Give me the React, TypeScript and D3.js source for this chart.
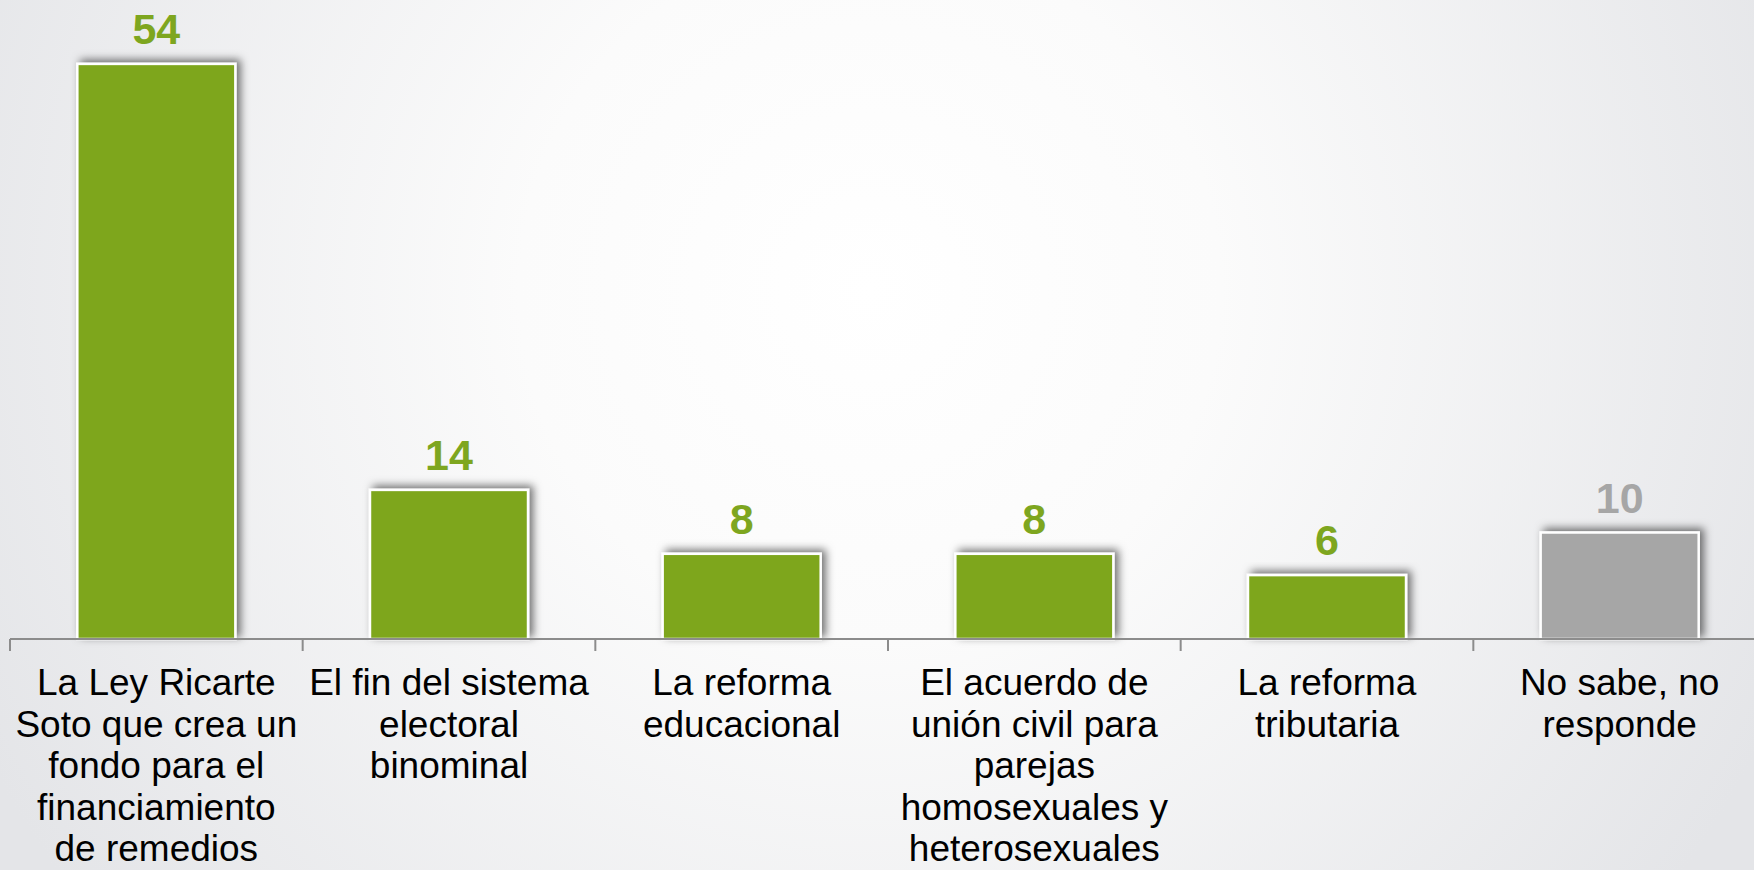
import React from "react";
import * as d3 from "d3";

const categories: string[] = [
  "La Ley Ricarte\nSoto que crea un\nfondo para el\nfinanciamiento\nde remedios",
  "El fin del sistema\nelectoral\nbinominal",
  "La reforma\neducacional",
  "El acuerdo de\nunión civil para\nparejas\nhomosexuales y\nheterosexuales",
  "La reforma\ntributaria",
  "No sabe, no\nresponde",
];
const values: number[] = [54, 14, 8, 8, 6, 10];
const barColors: string[] = ["#7ea61f", "#7ea61f", "#7ea61f", "#7ea61f", "#7ea61f", "#a6a6a6"];

const W = 1754;
const H = 870;
const baseY = 639;
const left = 10;
const right = 1766;

export default function App() {
  const xBands = d3.scaleBand<string>().domain(categories).range([left, right]).padding(0);
  const x = d3
    .scaleBand<string>()
    .domain(categories)
    .range([left, right])
    .paddingInner(0.46)
    .paddingOuter(0.23);
  const y = d3.scaleLinear().domain([0, 60]).range([baseY, 0]);
  const font = "'Liberation Sans', Arial, sans-serif";
  const tickXs = categories.map((c) => xBands(c) as number).concat([right]);

  return (
    <svg
      width={W}
      height={H}
      style={{ position: "absolute", left: 0, top: 0, display: "block" }}
    >
      <defs>
        <radialGradient id="bg" cx="870" cy="290" r="1000" gradientUnits="userSpaceOnUse">
          <stop offset="0" stopColor="#ffffff" />
          <stop offset="0.35" stopColor="#fbfbfb" />
          <stop offset="1" stopColor="#e4e5e8" />
        </radialGradient>
        <filter id="shadow" x="-20%" y="-20%" width="140%" height="140%">
          <feDropShadow dx="4" dy="-3" stdDeviation="4" floodColor="#000" floodOpacity="0.55" />
        </filter>
      </defs>
      <rect x={0} y={0} width={W} height={H} fill="url(#bg)" />

      {categories.map((c, i) => {
        const bx = x(c) as number;
        const bw = x.bandwidth();
        const top = y(values[i]);
        return (
          <g key={"b" + i}>
            <rect
              x={bx}
              y={top}
              width={bw}
              height={baseY - top}
              fill={barColors[i]}
              stroke="#ffffff"
              strokeWidth={2.5}
              filter="url(#shadow)"
            />
            <text
              x={bx + bw / 2}
              y={top - 20}
              textAnchor="middle"
              fontFamily={font}
              fontWeight="bold"
              fontSize={43}
              fill={barColors[i]}
            >
              {values[i]}
            </text>
          </g>
        );
      })}

      <line x1={left} x2={right} y1={baseY} y2={baseY} stroke="#8c8c8c" strokeWidth={2} />
      {tickXs.map((tx, i) => (
        <line key={"t" + i} x1={tx} x2={tx} y1={baseY} y2={baseY + 12} stroke="#8c8c8c" strokeWidth={2} />
      ))}

      {categories.map((c, i) => {
        const cx = (xBands(c) as number) + xBands.bandwidth() / 2;
        const lines = c.split("\n");
        return (
          <text
            key={"l" + i}
            textAnchor="middle"
            fontFamily={font}
            fontSize={37}
            fill="#000"
          >
            {lines.map((ln, j) => (
              <tspan key={j} x={cx} y={695 + j * 41.5}>
                {ln}
              </tspan>
            ))}
          </text>
        );
      })}
    </svg>
  );
}
